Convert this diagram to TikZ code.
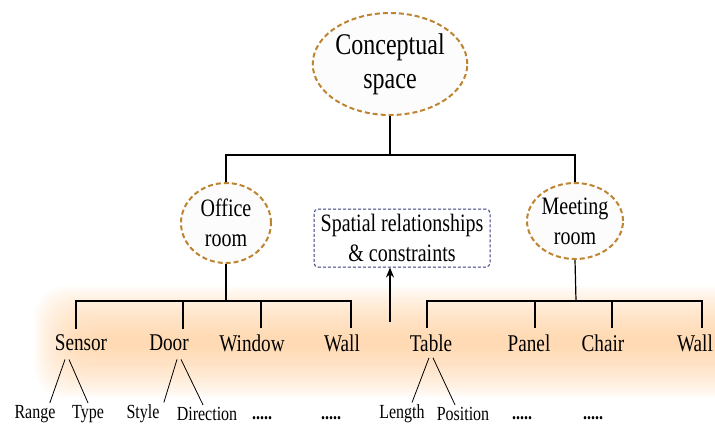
\documentclass[tikz,border=0pt]{standalone}
\usepackage{fontspec}
\setmainfont{Liberation Serif}[FakeStretch=0.80]
\usetikzlibrary{positioning,shapes,arrows}
\definecolor{ringBrown}{RGB}{190,132,50}
\definecolor{boxNavy}{RGB}{55,60,125}
\tikzstyle{concept}=[ellipse,draw=ringBrown,line width=1pt,dash pattern=on 2.5pt off 1.5pt,fill=black!1,inner sep=0pt,align=center]
\tikzstyle{item}=[inner sep=0pt,font=\fontsize{12}{14}\selectfont]
\tikzstyle{attr}=[inner sep=0pt,font=\fontsize{10}{12}\selectfont]
\tikzstyle{more}=[inner sep=0pt,font=\fontsize{10}{12}\selectfont\bfseries]
\tikzstyle{tree}=[line width=0.6pt]
\tikzstyle{fan}=[line width=0.4pt]
\tikzstyle{myarrow}=[-{Stealth[length=5pt,width=4pt]},line width=0.6pt]
\usetikzlibrary{arrows.meta}
\begin{document}
\begin{tikzpicture}[x=0.5pt,y=-0.5pt]
\useasboundingbox (0,0) rectangle (715,430);

% glow band behind the object row
\foreach \i in {0,...,23}
  \fill[orange!45,opacity=0.045,rounded corners=16pt] (34+2*\i,286+2.2*\i) rectangle (760,398-2.2*\i);

% concept ellipses
\node[concept,minimum width=72pt,minimum height=51pt,font=\fontsize{15}{17}\selectfont] (space) at (390,64) {Conceptual\\space};
\node[concept,minimum width=45pt,minimum height=40pt,font=\fontsize{12.5}{15}\selectfont] (office) at (226,223) {Office\\room};
\node[concept,minimum width=48pt,minimum height=38pt,font=\fontsize{12.5}{15}\selectfont] (meeting) at (575,221) {Meeting\\room};
\node[draw=boxNavy,line width=0.5pt,dash pattern=on 1.5pt off 1pt,rounded corners=2pt,fill=white,
      minimum width=88pt,minimum height=29pt,inner sep=1pt,align=center,font=\fontsize{12.5}{15}\selectfont] (spatial) at (402,238) {Spatial relationships\\\& constraints};

% object row
\node[item] (sensor) at (81,343) {Sensor};
\node[item] (door) at (169,343) {Door};
\node[item] (window) at (252,343) {Window};
\node[item] (wallA) at (342,343) {Wall};
\node[item] (table) at (431,343) {Table};
\node[item] (panel) at (529,343) {Panel};
\node[item] (chair) at (603,343) {Chair};
\node[item] (wallB) at (695,343) {Wall};

% attributes
\node[attr] (range) at (35,414) {Range};
\node[attr] (type) at (88,414) {Type};
\node[attr] (style) at (143,414) {Style};
\node[attr] (direction) at (207,414) {Direction};
\node[more] (dotsA) at (262,418) {.....};
\node[more] (dotsB) at (331,418) {.....};
\node[attr] (length) at (402,414) {Length};
\node[attr] (position) at (463,414) {Position};
\node[more] (dotsC) at (522,418) {.....};
\node[more] (dotsD) at (593,418) {.....};

% tree
\coordinate (topBar) at (390,155);
\coordinate (leftBar) at (226,301);
\coordinate (rightBar) at (576,301);
\draw[tree] (space.south) -- (topBar);
\draw[tree] (office.north) |- (topBar) -| (meeting.north);
\draw[tree] (office.south) -- (leftBar);
\draw[tree] (meeting.south) -- (rightBar);
\draw[tree] ([xshift=-2.5pt,yshift=3pt]sensor.north) |- (leftBar) -| ([xshift=4.5pt,yshift=3pt]wallA.north);
\draw[tree] ([xshift=7pt,yshift=3pt]door.north) -- ([xshift=7pt]door.north |- leftBar);
\draw[tree] ([xshift=4.5pt,yshift=3pt]window.north) -- ([xshift=4.5pt]window.north |- leftBar);
\draw[tree] ([xshift=-2pt,yshift=3pt]table.north) |- (rightBar) -| ([xshift=3.5pt,yshift=3pt]wallB.north);
\draw[tree] ([xshift=3pt,yshift=3pt]panel.north) -- ([xshift=3pt]panel.north |- rightBar);
\draw[tree] ([xshift=4.5pt,yshift=3pt]chair.north) -- ([xshift=4.5pt]chair.north |- rightBar);

\coordinate (arrowTail) at (390,322);
\draw[myarrow] (arrowTail) -- (arrowTail |- spatial.south);

% attribute fans
\draw[fan] ([xshift=-8pt,yshift=-4pt]sensor.south) -- ([xshift=-3pt,yshift=1pt]range.north east);
\draw[fan] ([xshift=-6pt,yshift=-4pt]sensor.south) -- ([yshift=1pt]type.north);
\draw[fan] ([xshift=4pt,yshift=-4pt]door.south) -- ([xshift=2pt,yshift=1pt]style.north east);
\draw[fan] ([xshift=6pt,yshift=-4pt]door.south) -- ([xshift=-2pt,yshift=1pt]direction.north);
\draw[fan] ([xshift=-1pt,yshift=-3pt]table.south) -- ([xshift=5pt,yshift=1pt]length.north);
\draw[fan] ([xshift=1pt,yshift=-3pt]table.south) -- ([xshift=-4pt,yshift=1pt]position.north);
\end{tikzpicture}
\end{document}
